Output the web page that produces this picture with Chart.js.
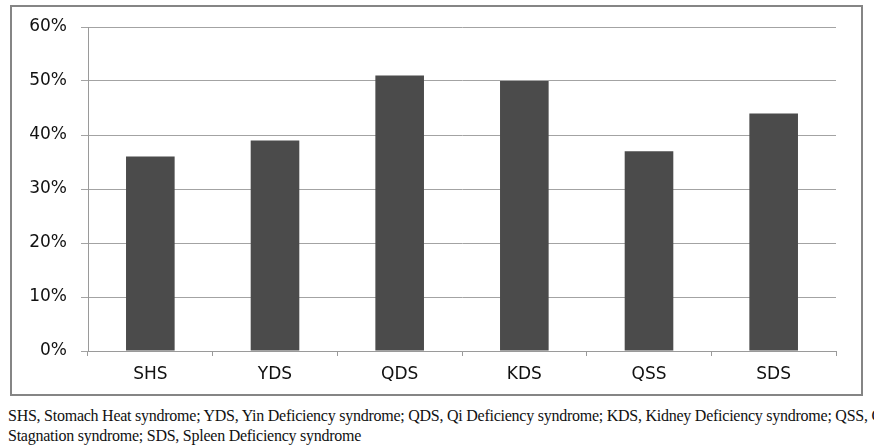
<!DOCTYPE html>
<html>
<head>
<meta charset="utf-8">
<script src="https://cdn.jsdelivr.net/npm/chart.js@4.4.0/dist/chart.umd.min.js"></script>
<style>
  html, body { margin: 0; padding: 0; background: #fff; overflow: hidden; width: 874px; height: 447px; }
  #wrap { position: absolute; left: 0; top: 0; width: 874px; height: 400px; }
  .cap { position: absolute; left: 8px; white-space: nowrap; font-family: "Liberation Serif", "Times New Roman", serif; font-size: 16px; letter-spacing: -0.25px; color: #111; }
</style>
</head>
<body>
<div id="wrap"><canvas id="c" width="874" height="400"></canvas></div>
<div class="cap" id="cap1" style="top:407px;"></div>
<div class="cap" id="cap2" style="top:427px;"></div>
<script>
const categories = ["SHS", "YDS", "QDS", "KDS", "QSS", "SDS"];
const values = [36, 39, 51, 50, 37, 44];
const yTicks = [0, 10, 20, 30, 40, 50, 60];
const captionLines = [
  "SHS, Stomach Heat syndrome; YDS, Yin Deficiency syndrome; QDS, Qi Deficiency syndrome; KDS, Kidney Deficiency syndrome; QSS, Qi",
  "Stagnation syndrome; SDS, Spleen Deficiency syndrome"
];
document.getElementById('cap1').textContent = captionLines[0];
document.getElementById('cap2').textContent = captionLines[1];

const borderPlugin = {
  id: 'outerBorder',
  beforeDraw(chart) {
    const ctx = chart.ctx;
    ctx.save();
    ctx.fillStyle = '#fff';
    ctx.fillRect(0, 0, chart.width, chart.height);
    ctx.strokeStyle = '#858585';
    ctx.lineWidth = 2;
    ctx.strokeRect(11, 6, 851, 389);
    ctx.restore();
  }
};

new Chart(document.getElementById('c'), {
  type: 'bar',
  data: {
    labels: categories,
    datasets: [{
      data: values,
      backgroundColor: '#4b4b4b',
      borderWidth: 0,
      categoryPercentage: 1.0,
      barPercentage: 0.39
    }]
  },
  options: {
    responsive: false,
    animation: false,
    devicePixelRatio: 1,
    layout: { padding: { left: 0, right: 38, top: 27, bottom: 0 } },
    plugins: { legend: { display: false }, tooltip: { enabled: false } },
    scales: {
      x: {
        offset: true,
        grid: { display: true, offset: true, drawOnChartArea: false, drawTicks: true, tickLength: 5, color: '#9a9a9a', lineWidth: 1 },
        border: { display: true, color: '#9a9a9a', width: 1 },
        ticks: { color: '#111', padding: 8, font: { family: 'DejaVu Sans', size: 17 } },
        afterFit(scale) { scale.height = 49; }
      },
      y: {
        min: 0, max: 60,
        afterBuildTicks(scale) { scale.ticks = yTicks.map(v => ({ value: v })); },
        grid: { color: '#a3a3a3', lineWidth: 1, tickLength: 7, drawTicks: true },
        border: { display: true, color: '#9a9a9a', width: 1 },
        ticks: { color: '#111', padding: 14, font: { family: 'DejaVu Sans', size: 17 }, callback: v => v + '%' },
        afterFit(scale) { scale.width = 88; }
      }
    }
  },
  plugins: [borderPlugin]
});
</script>
</body>
</html>
